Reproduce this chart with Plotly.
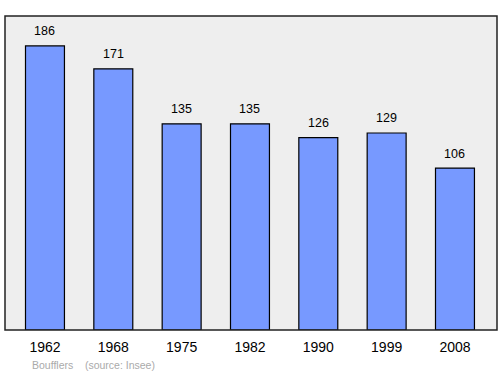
import plotly.graph_objects as go

years = ["1962", "1968", "1975", "1982", "1990", "1999", "2008"]
population = [186, 171, 135, 135, 126, 129, 106]
source_text = "Boufflers    (source: Insee)"

xpos = list(range(len(years)))
FONT = "Liberation Sans, Arial, sans-serif"

fig = go.Figure()
fig.add_trace(go.Bar(
    x=xpos, y=population, width=0.57,
    marker=dict(color="#7799ff", line=dict(color="#000000", width=1.2)),
    hoverinfo="skip",
))
for xi, v in zip(xpos, population):
    fig.add_annotation(x=xi, y=v, text=str(v), showarrow=False, yanchor="middle",
                       yshift=14.5, font=dict(family=FONT, size=12.5, color="#000000"))

fig.update_layout(
    width=500, height=374,
    margin=dict(l=5, r=3, t=16, b=44),
    paper_bgcolor="#ffffff", plot_bgcolor="#eeeeee",
    showlegend=False,
    font=dict(family=FONT, color="#000000"),
    xaxis=dict(range=[-0.585, 6.615], tickmode="array", tickvals=xpos, ticktext=years,
               showgrid=False, zeroline=False, ticks="", tickfont=dict(size=14),
               ticklabelstandoff=7),
    yaxis=dict(range=[0, 205.6], showgrid=False, zeroline=False, showticklabels=False, ticks=""),
)
fig.add_shape(type="rect", xref="paper", yref="paper", x0=0, y0=0, x1=1, y1=1,
              line=dict(color="#222222", width=1.5))
fig.add_annotation(text=source_text, xref="paper", yref="paper", x=0.051, y=-0.111,
                   xanchor="left", yanchor="middle", showarrow=False,
                   font=dict(family=FONT, size=10.5, color="#aaaaaa"))
fig.write_html("out.html")
